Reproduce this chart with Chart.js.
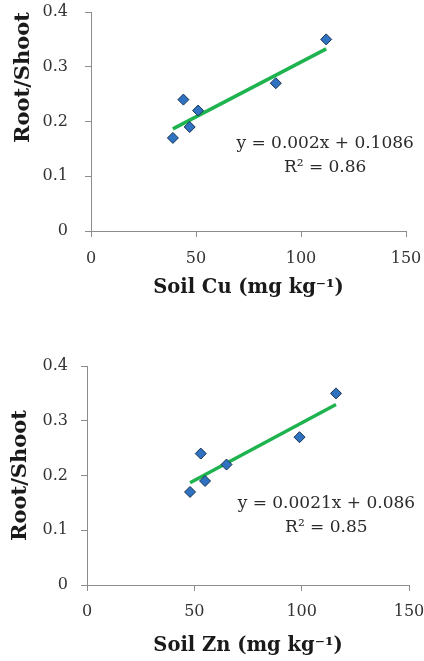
<!DOCTYPE html>
<html>
<head>
<meta charset="utf-8">
<script src="https://cdn.jsdelivr.net/npm/chart.js@4"></script>
<style>
  html, body { margin: 0; padding: 0; background: #fff; }
  .box { position: absolute; left: 0; width: 424px; }
  #cuBox { top: 0; height: 300px; }
  #znBox { top: 330px; height: 331px; }
</style>
</head>
<body>
<div class="box" id="cuBox"><canvas id="cu-chart"></canvas></div>
<div class="box" id="znBox"><canvas id="zn-chart"></canvas></div>
<script>
// soil Cu vs root/shoot
const cuX = [39, 44, 47, 51, 88, 112];
const cuY = [0.17, 0.24, 0.19, 0.22, 0.27, 0.35];
const cuSlope = 0.002, cuIntercept = 0.1086, cuR2 = "0.86";

// soil Zn vs root/shoot
const znX = [48, 53, 55, 65, 99, 116];
const znY = [0.17, 0.24, 0.19, 0.22, 0.27, 0.35];
const znSlope = 0.0021, znIntercept = 0.086, znR2 = "0.85";

const xTicks = [0, 50, 100, 150];
const yTicks = [0, 0.1, 0.2, 0.3, 0.4];

const SERIF = "'DejaVu Serif', Georgia, serif";
const AXIS_GREY = "#8c8c8c";

// equation text drawn in data coordinates
const equationText = {
  id: "equationText",
  afterDatasetsDraw(chart, args, opts) {
    const ctx = chart.ctx;
    const xs = chart.scales.x, ys = chart.scales.y;
    ctx.save();
    ctx.fillStyle = "#2b2b2b";
    ctx.font = "17px " + SERIF;
    ctx.textAlign = "center";
    ctx.textBaseline = "middle";
    opts.lines.forEach(l => {
      ctx.fillText(l.text, xs.getPixelForValue(l.x), ys.getPixelForValue(l.y));
    });
    ctx.restore();
  }
};

function makeChart(id, xs, ys, slope, intercept, r2, xTitle, o) {
  const pts = xs.map((x, i) => ({ x: x, y: ys[i] }));
  const lo = Math.min(...xs), hi = Math.max(...xs);
  const trend = [
    { x: lo, y: slope * lo + intercept },
    { x: hi, y: slope * hi + intercept }
  ];
  return new Chart(document.getElementById(id), {
    type: "scatter",
    data: {
      datasets: [
        {
          type: "line",
          data: trend,
          borderColor: "#1fb34f",
          borderWidth: 3.5,
          pointRadius: 0,
          fill: false,
          order: 2
        },
        {
          data: pts,
          pointStyle: "rectRot",
          pointRadius: 5.5,
          backgroundColor: "#2f72c2",
          borderColor: "#17324f",
          borderWidth: 1,
          order: 1
        }
      ]
    },
    options: {
      responsive: true,
      maintainAspectRatio: false,
      animation: false,
      layout: { padding: { top: o.top, right: o.right, left: 0, bottom: 0 } },
      plugins: {
        legend: { display: false },
        tooltip: { enabled: false },
        equationText: {
          lines: [
            { text: "y = " + slope + "x + " + intercept, x: 111.5, y: o.eqY1 },
            { text: "R² = " + r2, x: 111.5, y: o.eqY2 }
          ]
        }
      },
      scales: {
        x: {
          type: "linear",
          min: 0, max: 150,
          afterBuildTicks: s => { s.ticks = xTicks.map(v => ({ value: v })); },
          // fixed box size, no extra side padding for the end labels
          afterFit: s => { s.height = o.xHeight; s.paddingLeft = 0; s.paddingRight = 0; },
          grid: { display: true, drawOnChartArea: false, drawTicks: true, tickLength: 6, color: AXIS_GREY },
          border: { display: true, color: AXIS_GREY, width: 1 },
          ticks: { color: "#333", padding: o.xPad, font: { family: SERIF, size: 16 } },
          title: {
            display: true,
            text: xTitle,
            color: "#1a1a1a",
            padding: { top: 0, bottom: o.xTitlePad },
            font: { family: SERIF, size: 19.5, weight: "bold" }
          }
        },
        y: {
          min: 0, max: 0.4,
          afterBuildTicks: s => { s.ticks = yTicks.map(v => ({ value: v })); },
          afterFit: s => { s.width = o.yWidth; s.paddingTop = 0; s.paddingBottom = 0; },
          grid: { display: true, drawOnChartArea: false, drawTicks: true, tickLength: 6, color: AXIS_GREY },
          border: { display: true, color: AXIS_GREY, width: 1 },
          ticks: { color: "#333", padding: o.yPad, font: { family: SERIF, size: 16 } },
          title: {
            display: true,
            text: "Root/Shoot",
            align: o.yAlign,
            color: "#1a1a1a",
            padding: { top: o.yTitlePad, bottom: 0 },
            font: { family: SERIF, size: 21, weight: "bold" }
          }
        }
      }
    },
    plugins: [equationText]
  });
}

const cuChart = makeChart("cu-chart", cuX, cuY, cuSlope, cuIntercept, cuR2,
  "Soil Cu (mg kg⁻¹)",
  { top: 12, right: 18, yWidth: 91, xHeight: 69, xPad: 12, yPad: 17,
    xTitlePad: 0, yTitlePad: 11, yAlign: "end", eqY1: 0.159, eqY2: 0.116 });

const znChart = makeChart("zn-chart", znX, znY, znSlope, znIntercept, znR2,
  "Soil Zn (mg kg⁻¹)",
  { top: 36, right: 15, yWidth: 87, xHeight: 76, xPad: 11, yPad: 13,
    xTitlePad: 3, yTitlePad: 7.5, yAlign: "center", eqY1: 0.149, eqY2: 0.105 });
</script>
</body>
</html>
